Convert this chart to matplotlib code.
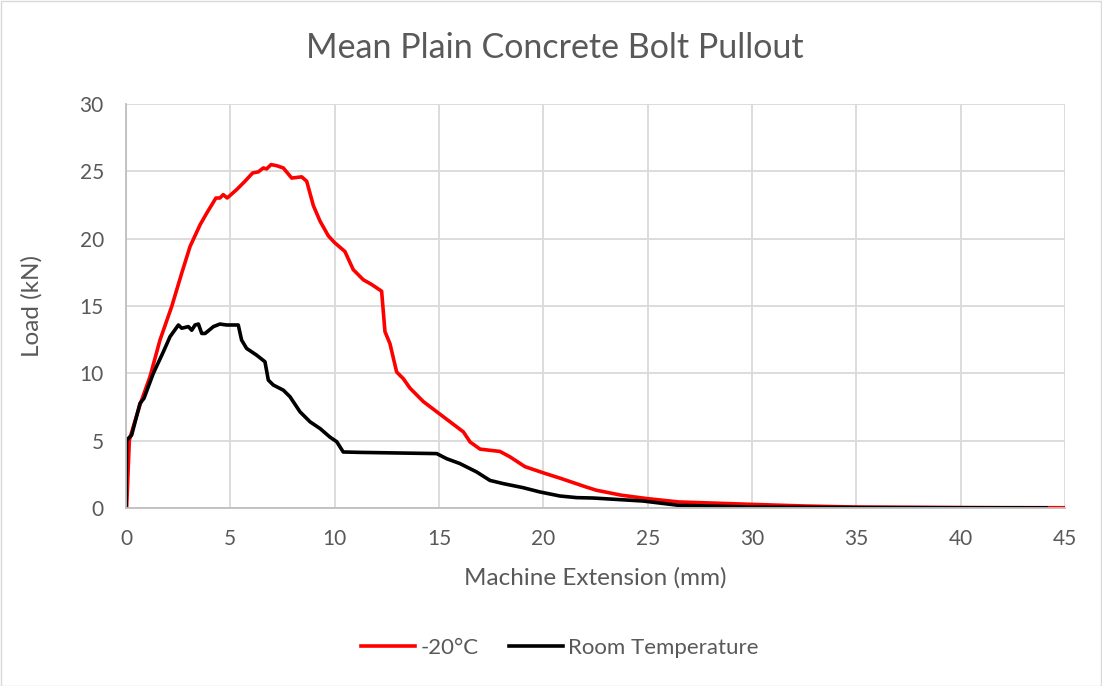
import matplotlib
matplotlib.use("Agg")
import matplotlib.pyplot as plt

plt.rcParams['font.family'] = ['Lato', 'DejaVu Sans']

# -20°C series
cold_x = [0.0, 0.03, 0.16, 0.4, 0.7, 1.0, 1.15, 1.63, 2.19, 2.67, 3.07, 3.55, 3.87, 4.31, 4.5, 4.66,
          4.85, 5.3, 5.7, 6.07, 6.34, 6.58, 6.74, 6.95, 7.22, 7.54, 7.94, 8.42, 8.66, 8.98, 9.3,
          9.7, 10.0, 10.49, 10.89, 11.37, 11.77, 12.25, 12.41, 12.65, 12.97, 13.29, 13.61, 14.25,
          14.89, 15.53, 16.17, 16.49, 16.97, 17.92, 18.4, 19.12, 19.98, 20.83, 22.03, 22.54,
          23.74, 24.96, 26.48, 29.98, 32.46, 35.0, 40.0, 45.0]
cold_y = [0.0, 0.0, 5.04, 6.3, 7.8, 9.1, 9.75, 12.48, 14.96, 17.44, 19.42, 21.03, 21.9, 23.02, 23.02,
          23.27, 23.02, 23.64, 24.26, 24.88, 24.96, 25.25, 25.18, 25.5, 25.42, 25.25, 24.5, 24.59,
          24.26, 22.45, 21.3, 20.2, 19.7, 19.05, 17.7, 16.95, 16.6, 16.1, 13.1, 12.2, 10.1, 9.6,
          8.9, 7.9, 7.15, 6.4, 5.65, 4.9, 4.37, 4.2, 3.8, 3.07, 2.62, 2.2, 1.57, 1.32, 0.95, 0.7,
          0.45, 0.27, 0.15, 0.07, 0.03, 0.02]

# Room temperature series
room_x = [0.0, 0.03, 0.27, 0.67, 0.86, 1.31, 1.79, 2.11, 2.51, 2.67, 2.99, 3.15, 3.31, 3.47, 3.63,
          3.79, 4.19, 4.5, 4.82, 5.38, 5.54, 5.78, 6.26, 6.66, 6.82, 7.06, 7.54, 7.86, 8.34, 8.82,
          9.3, 9.77, 10.1, 10.41, 11.21, 14.89, 15.37, 16.0, 16.8, 17.44, 18.08, 19.03, 19.84,
          20.8, 21.6, 22.4, 24.77, 26.48, 29.98, 35.0, 44.1]
room_y = [0.0, 5.04, 5.41, 7.77, 8.14, 10.0, 11.6, 12.72, 13.59, 13.35, 13.47, 13.2, 13.59, 13.66,
          12.96, 12.96, 13.47, 13.66, 13.59, 13.59, 12.47, 11.85, 11.35, 10.86, 9.5, 9.13, 8.75,
          8.26, 7.14, 6.4, 5.9, 5.27, 4.92, 4.16, 4.13, 4.04, 3.66, 3.3, 2.68, 2.05, 1.81, 1.51,
          1.19, 0.89, 0.77, 0.74, 0.52, 0.2, 0.07, 0.03, 0.01]

x_ticks = [0, 5, 10, 15, 20, 25, 30, 35, 40, 45]
y_ticks = [0, 5, 10, 15, 20, 25, 30]

W, H = 1102, 686
fig = plt.figure(figsize=(W / 100, H / 100), dpi=100)
ax = fig.add_axes([126 / W, 1 - 508 / H, (1065 - 126) / W, (508 - 104) / H])

grey_text = '#595959'
ax.plot(cold_x, cold_y, color='#ff0000', lw=2.6, label='-20°C', solid_joinstyle='round')
ax.plot(room_x, room_y, color='#000000', lw=2.6, label='Room Temperature', solid_joinstyle='round')

ax.set_xlim(0, 45)
ax.set_ylim(0, 30)
ax.set_xticks(x_ticks)
ax.set_yticks(y_ticks)
ax.grid(True, color='#d9d9d9', lw=1.3)
ax.set_axisbelow(True)
for s in ['top', 'right']:
    ax.spines[s].set_visible(False)
for s in ['left', 'bottom']:
    ax.spines[s].set_color('#bfbfbf')
    ax.spines[s].set_linewidth(1.3)
ax.tick_params(length=0, labelsize=15, labelcolor=grey_text)
ax.tick_params(axis='y', pad=16)
ax.tick_params(axis='x', pad=15)

fig.text(555 / W, 1 - 48 / H, 'Mean Plain Concrete Bolt Pullout', fontsize=24.5,
         color=grey_text, ha='center', va='center')
fig.text(595 / W, 1 - 578 / H, 'Machine Extension (mm)', fontsize=17.5,
         color=grey_text, ha='center', va='center')
fig.text(32 / W, 1 - 306 / H, 'Load (kN)', fontsize=17.5, rotation=90,
         color=grey_text, ha='center', va='center')

leg = fig.legend(loc='center', bbox_to_anchor=(560 / W, 1 - 648 / H), ncol=2, frameon=False,
                 fontsize=16, handlelength=2.4, columnspacing=1.4, handletextpad=0.25)
for t in leg.get_texts():
    t.set_color(grey_text)

border = plt.Rectangle((0.5 / W, 0.5 / H), 1 - 1.5 / W, 1 - 1.5 / H, transform=fig.transFigure,
                       fill=False, edgecolor='#d9d9d9', lw=1)
fig.patches.append(border)

fig.savefig('out.png', dpi=100)
